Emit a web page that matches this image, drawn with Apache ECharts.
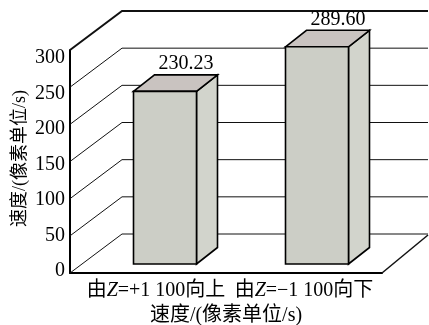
<!DOCTYPE html>
<html>
<head>
<meta charset="utf-8">
<script src="https://cdn.jsdelivr.net/npm/echarts@6/dist/echarts.min.js"></script>
<style>
  html, body { margin: 0; padding: 0; background: #fff; }
  #chart { width: 429px; height: 325px; }
</style>
</head>
<body>
<div id="chart"></div>
<script>
// Chart data
const categories = ['由Z=+1 100向上', '由Z=−1 100向下'];
const speeds = [230.23, 289.60];
const yTicks = [0, 50, 100, 150, 200, 250, 300];
const yAxisTitle = '速度/(像素单位/s)';
const xAxisTitle = '速度/(像素单位/s)';

const FONT = "'Liberation Serif', 'DejaVu Serif', serif, 'Noto Sans CJK SC'";

// oblique depth of the back wall / floor and of each box
const WALL_DX = 52, WALL_DY = -39;
const FLOOR_RIGHT_DX = 46, FLOOR_RIGHT_DY = -38;
const BOX_DX = 21, BOX_DY = -16.5;
const BOX_W = 63;

const chart = echarts.init(document.getElementById('chart'), null, { renderer: 'canvas' });

// back wall gridlines + floor, drawn in the front plane (grid 2)
function renderWall(params, api) {
  const cs = params.coordSys;
  const v = api.value(1);
  const p = api.coord([0, v]);
  const x0 = cs.x;
  const y = p[1];
  const rightEdge = cs.x + cs.width + FLOOR_RIGHT_DX;
  const top = v === yTicks[yTicks.length - 1];
  const lw = top ? 2 : 1;
  const children = [
    { type: 'polyline', shape: { points: [[x0, y], [x0 + WALL_DX, y + WALL_DY], [rightEdge, y + WALL_DY]] },
      style: { stroke: '#111', lineWidth: lw, fill: null } }
  ];
  if (v === 0) {
    const xr = cs.x + cs.width;
    children.push({ type: 'line', shape: { x1: xr, y1: y, x2: xr + FLOOR_RIGHT_DX, y2: y + FLOOR_RIGHT_DY },
      style: { stroke: '#111', lineWidth: 1.5 } });
  }
  return { type: 'group', children };
}

// 3D box for each bar (grid 1)
function renderBox(params, api) {
  const c = api.value(0);
  const val = api.value(1);
  const base = api.coord([c, 0]);
  const head = api.coord([c, val]);
  const xl = base[0] - BOX_W / 2, xr = base[0] + BOX_W / 2;
  const yb = base[1], yt = head[1];
  const edge = { stroke: '#000', lineWidth: 1.6, lineJoin: 'miter' };
  return {
    type: 'group',
    children: [
      { type: 'polygon', shape: { points: [[xr, yt], [xr + BOX_DX, yt + BOX_DY], [xr + BOX_DX, yb + BOX_DY], [xr, yb]] },
        style: Object.assign({ fill: '#d2d4cc' }, edge) },
      { type: 'polygon', shape: { points: [[xl, yt], [xl + BOX_DX, yt + BOX_DY], [xr + BOX_DX, yt + BOX_DY], [xr, yt]] },
        style: Object.assign({ fill: '#c9c3c0' }, edge) },
      { type: 'rect', shape: { x: xl, y: yt, width: xr - xl, height: yb - yt },
        style: Object.assign({ fill: '#cccec6' }, edge) },
      { type: 'text', x: base[0] + BOX_DX, y: yt + BOX_DY - 1,
        style: { text: val.toFixed(2), fill: '#000', fontFamily: FONT, fontSize: 20, align: 'center', verticalAlign: 'bottom' } }
    ]
  };
}

const italicZ = s => s.replace('Z', '{i|Z}');

chart.setOption({
  backgroundColor: '#fff',
  animation: false,
  textStyle: { fontFamily: FONT },
  grid: [
    // 0: tick labels and category labels
    { left: 82, top: 58, width: 296, height: 213, outerBoundsMode: 'none', containLabel: false },
    // 1: bar plane
    { left: 89, top: 39, width: 304, height: 225, outerBoundsMode: 'none', containLabel: false },
    // 2: front plane (axis lines, wall, floor)
    { left: 70, top: 50, width: 312, height: 223, outerBoundsMode: 'none', containLabel: false }
  ],
  xAxis: [
    { gridIndex: 0, type: 'category', data: categories,
      axisLine: { show: false }, axisTick: { show: false },
      axisLabel: { interval: 0, margin: 10, color: '#000', fontFamily: FONT, fontSize: 20,
        formatter: italicZ,
        rich: { i: { fontStyle: 'italic', fontFamily: FONT, fontSize: 20, color: '#000' } } } },
    { gridIndex: 1, type: 'category', data: categories, show: false },
    { gridIndex: 2, type: 'category', data: categories,
      axisLine: { show: true, lineStyle: { color: '#000', width: 2 } },
      axisTick: { show: false }, axisLabel: { show: false },
      name: xAxisTitle, nameLocation: 'middle', nameGap: 33, nameMoveOverlap: false,
      nameTextStyle: { color: '#000', fontFamily: FONT, fontSize: 20 } }
  ],
  yAxis: [
    { gridIndex: 0, type: 'value', min: 0, max: 300, interval: 50,
      axisLine: { show: false }, axisTick: { show: false }, splitLine: { show: false },
      axisLabel: { margin: 17, color: '#000', fontFamily: FONT, fontSize: 20 },
      name: yAxisTitle, nameLocation: 'middle', nameGap: 53, nameRotate: 90, nameMoveOverlap: false,
      nameTextStyle: { color: '#000', fontFamily: FONT, fontSize: 18, padding: [0, 0, 0, 12] } },
    { gridIndex: 1, type: 'value', min: 0, max: 300, show: false, splitLine: { show: false } },
    { gridIndex: 2, type: 'value', min: 0, max: 300, interval: 50,
      axisLine: { show: true, lineStyle: { color: '#000', width: 2 } },
      axisTick: { show: false }, axisLabel: { show: false }, splitLine: { show: false } }
  ],
  series: [
    { type: 'custom', xAxisIndex: 2, yAxisIndex: 2, z: 1, silent: true,
      renderItem: renderWall, encode: { x: 0, y: 1 },
      data: yTicks.map(t => [0, t]) },
    { type: 'custom', xAxisIndex: 1, yAxisIndex: 1, z: 3, silent: true,
      renderItem: renderBox, encode: { x: 0, y: 1 },
      data: speeds.map((v, i) => [i, v]) }
  ]
});
</script>
</body>
</html>
